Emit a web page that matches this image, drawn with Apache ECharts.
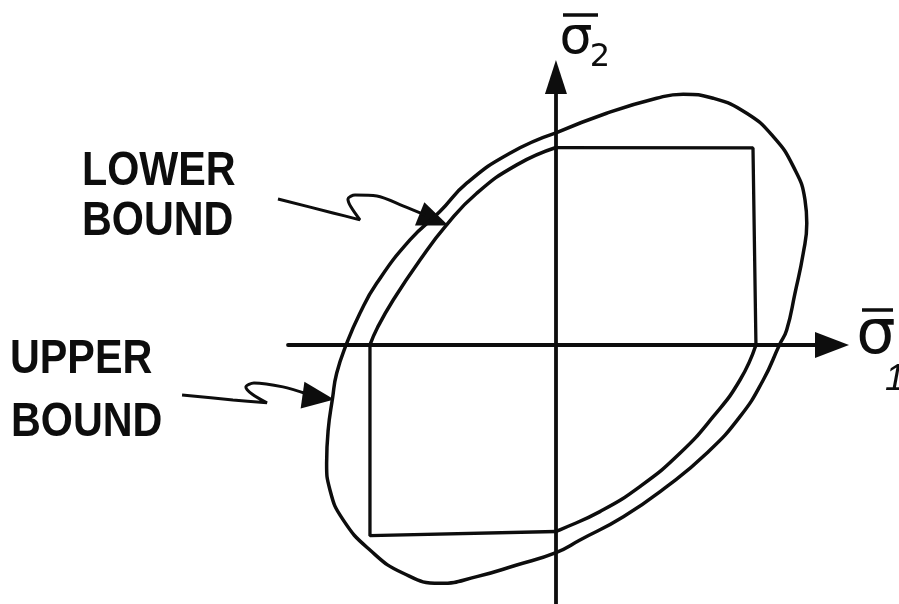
<!DOCTYPE html>
<html>
<head>
<meta charset="utf-8">
<script src="https://cdn.jsdelivr.net/npm/echarts@6.0.0/dist/echarts.min.js"></script>
<style>
  html, body { margin: 0; padding: 0; background: #fff; }
  #chart { width: 899px; height: 604px; }
</style>
</head>
<body>
<div id="chart"></div>
<script>
// normalised stresses: 1 unit = side of the square (yield) region
const upperBound = [
  [0, 1.076], [0.257, 1.176], [0.511, 1.252], [0.646, 1.273], [0.798, 1.252],
  [0.968, 1.176], [1.103, 1.057], [1.205, 0.905], [1.264, 0.736], [1.273, 0.618],
  [1.255, 0.465], [1.213, 0.262], [1.171, 0.076], [1.134, 0], [1.052, -0.178],
  [0.934, -0.364], [0.765, -0.55], [0.562, -0.719], [0.342, -0.872], [0.122, -0.99],
  [0, -1.054], [-0.199, -1.117], [-0.402, -1.176], [-0.589, -1.21], [-0.775, -1.159],
  [-0.944, -1.041], [-1.08, -0.888], [-1.147, -0.736], [-1.164, -0.601], [-1.156, -0.431],
  [-1.134, -0.271], [-1.113, -0.144], [-1.065, 0], [-0.995, 0.161], [-0.91, 0.313],
  [-0.741, 0.533], [-0.589, 0.677], [-0.453, 0.821], [-0.234, 0.973], [0, 1.076]
];
const lowerArcNW = [
  [0, 1.002], [-0.199, 0.914], [-0.402, 0.77], [-0.555, 0.609],
  [-0.69, 0.431], [-0.826, 0.228], [-0.905, 0.09], [-0.944, 0]
];
const lowerArcSE = [
  [1.015, 0], [0.934, -0.178], [0.798, -0.364], [0.629, -0.55],
  [0.426, -0.719], [0.223, -0.846], [0.02, -0.939], [0, -0.947]
];
const squareNE = [[0, 1.002], [1.0, 1.0], [1.015, 0]];
const squareSW = [[-0.944, 0], [-0.944, -0.968], [0, -0.947]];

const lowerLeader = [
  [-1.411, 0.741], [-1.132, 0.67], [-0.995, 0.635], [-1.041, 0.701], [-1.056, 0.741],
  [-1.02, 0.761], [-0.909, 0.756], [-0.777, 0.706], [-0.665, 0.66]
];
const upperLeader = [
  [-1.898, -0.254], [-1.64, -0.279], [-1.467, -0.294], [-1.543, -0.249], [-1.574, -0.213],
  [-1.533, -0.193], [-1.386, -0.213], [-1.264, -0.249]
];
const lowerArrowAt = [[-0.619, 0.636]];
const upperArrowAt = [[-1.206, -0.266]];

const labels = [
  { text: 'LOWER', x: 82, y: 172 },
  { text: 'BOUND', x: 82, y: 222 },
  { text: 'UPPER', x: 10, y: 360 },
  { text: 'BOUND', x: 11, y: 423 }
];

const INK = '#0d0d0d';

const chart = echarts.init(document.getElementById('chart'));

function curve(data, smooth, width, idx) {
  return {
    type: 'line',
    data: data,
    smooth: smooth,
    symbol: 'none',
    xAxisIndex: idx || 0,
    yAxisIndex: idx || 0,
    silent: true,
    lineStyle: { color: INK, width: width }
  };
}

function arrowHead(data, rotate, size) {
  return {
    type: 'scatter',
    data: data,
    xAxisIndex: 1,
    yAxisIndex: 1,
    symbol: 'triangle',
    symbolSize: size,
    symbolRotate: rotate,
    silent: true,
    itemStyle: { color: INK, opacity: 1 }
  };
}

const hidden = {
  type: 'value',
  axisLine: { show: false },
  axisTick: { show: false },
  axisLabel: { show: false },
  splitLine: { show: false }
};

chart.setOption({
  animation: false,
  backgroundColor: '#fff',
  // grid 0 carries the axes, grid 1 is the same scale stretched to the left for the leaders
  grid: [
    { left: 288, right: 67, top: 77, bottom: 0 },
    { left: 0, right: 67, top: 77, bottom: 0 }
  ],
  xAxis: [
    Object.assign({}, hidden, {
      min: -1.36, max: 1.401,
      axisLine: { show: true, onZero: true, symbol: ['none', 'triangle'], symbolSize: [26, 34],
        lineStyle: { color: INK, width: 3.8 } }
    }),
    Object.assign({}, hidden, { gridIndex: 1, min: -2.822, max: 1.401 })
  ],
  yAxis: [
    Object.assign({}, hidden, {
      min: -1.315, max: 1.36,
      axisLine: { show: true, onZero: true, symbol: ['none', 'triangle'], symbolSize: [22, 34],
        lineStyle: { color: INK, width: 3.8 } }
    }),
    Object.assign({}, hidden, { gridIndex: 1, min: -1.315, max: 1.36 })
  ],
  series: [
    curve(upperBound, 0.5, 3.5),
    curve(lowerArcNW, 0.5, 3.5),
    curve(lowerArcSE, 0.5, 3.5),
    curve(squareNE, false, 3.3),
    curve(squareSW, false, 3.3),
    curve(lowerLeader, 0.3, 3, 1),
    curve(upperLeader, 0.3, 3, 1),
    arrowHead(lowerArrowAt, -112, [25, 31]),
    arrowHead(upperArrowAt, -98, [27, 32])
  ],
  graphic: labels.map(function (l) {
    return {
      type: 'text', x: l.x, y: l.y, scaleX: 0.86,
      style: {
        text: l.text, font: 'bold 48px "Liberation Sans", Arial, sans-serif',
        fill: INK, align: 'left', verticalAlign: 'middle'
      }
    };
  }).concat([
    { type: 'text', x: 576, y: 39,
      style: { text: 'σ', font: '52px "DejaVu Sans"', fill: INK, align: 'center', verticalAlign: 'middle' } },
    { type: 'text', x: 600, y: 58,
      style: { text: '2', font: '32px "DejaVu Sans"', fill: INK, align: 'center', verticalAlign: 'middle' } },
    { type: 'line', shape: { x1: 563, y1: 15, x2: 598, y2: 15 }, style: { stroke: INK, lineWidth: 3.5 } },
    { type: 'text', x: 876, y: 337,
      style: { text: 'σ', font: '62px "DejaVu Sans"', fill: INK, align: 'center', verticalAlign: 'middle' } },
    { type: 'text', x: 895, y: 380,
      style: { text: '1', font: 'italic 36px "Liberation Sans"', fill: INK, align: 'center', verticalAlign: 'middle' } },
    { type: 'line', shape: { x1: 862, y1: 310, x2: 893, y2: 310 }, style: { stroke: INK, lineWidth: 3.5 } }
  ])
});
</script>
</body>
</html>
